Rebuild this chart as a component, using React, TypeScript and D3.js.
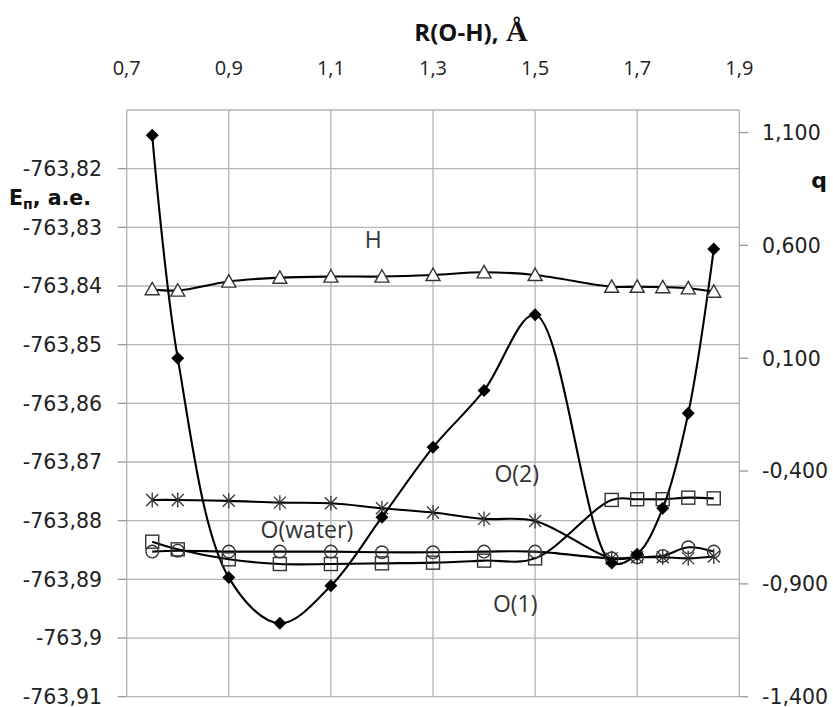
import React from 'react';
import * as d3 from 'd3';

// R(O-H), Å
const xVals = [0.75, 0.8, 0.9, 1.0, 1.1, 1.2, 1.3, 1.4, 1.5, 1.65, 1.7, 1.75, 1.8, 1.85];
// total energy, a.e. (left axis)
const energy = [-763.8143, -763.8523, -763.8897, -763.8975, -763.8911, -763.8794, -763.8675,
  -763.8578, -763.8449, -763.8872, -763.8857, -763.8779, -763.8617, -763.8337];
// charges q (right axis)
const qH = [0.406, 0.4, 0.44, 0.457, 0.462, 0.462, 0.469, 0.481, 0.469, 0.417, 0.417, 0.415, 0.41, 0.395];
const qStars = [-0.528, -0.528, -0.532, -0.54, -0.543, -0.565, -0.584, -0.612, -0.621, -0.787, -0.782, -0.782, -0.787, -0.779];
const qCircles = [-0.757, -0.753, -0.757, -0.757, -0.757, -0.76, -0.76, -0.757, -0.757, -0.787, -0.782, -0.776, -0.738, -0.757];
const qSquares = [-0.713, -0.747, -0.791, -0.812, -0.812, -0.809, -0.806, -0.797, -0.787, -0.528, -0.525, -0.525, -0.518, -0.521];

const xTicks = [0.7, 0.9, 1.1, 1.3, 1.5, 1.7, 1.9];
const leftTicks = [-763.82, -763.83, -763.84, -763.85, -763.86, -763.87, -763.88, -763.89, -763.9, -763.91];
const rightTicks = [1.1, 0.6, 0.1, -0.4, -0.9, -1.4];

const seriesLabels = [
  { text: 'H', x: 1.183, q: 0.624 },
  { text: 'O(2)', x: 1.464, q: -0.41 },
  { text: 'O(water)', x: 1.053, q: -0.661 },
  { text: 'O(1)', x: 1.461, q: -0.986 },
];

const W = 833;
const H = 707;
const left = 126.7;
const right = 739.3;
const top = 110;
const bottom = 696.7;

const x = d3.scaleLinear().domain([0.7, 1.9]).range([left, right]);
const yE = d3.scaleLinear().domain([-763.91, -763.81]).range([bottom, top]);
const yQ = d3.scaleLinear().domain([-1.4, 1.2]).range([bottom, top]);

const grid = '#b4b4b4';
const comma = (s: string) => s.replace('.', ',');

const curve = d3.curveCatmullRom.alpha(0.5);

const lineE = d3.line<number>().x((_, i) => x(xVals[i])).y(d => yE(d)).curve(curve);
const lineQ = d3.line<number>().x((_, i) => x(xVals[i])).y(d => yQ(d)).curve(curve);

const App = () => {
  const hLines = d3.range(0, 11).map(i => yE(-763.81 - i * 0.01));
  const vLines = xTicks.map(t => x(t));

  return (
    <svg width={W} height={H} style={{ position: 'absolute', left: 0, top: 0, background: '#fff' }}>
      <rect width={W} height={H} fill="#fff" />

      {/* grid */}
      {hLines.map((y, i) => (
        <line key={'h' + i} x1={left} x2={right} y1={y} y2={y} stroke={grid} strokeWidth={1.3} />
      ))}
      {vLines.map((vx, i) => (
        <line key={'v' + i} x1={vx} x2={vx} y1={top} y2={bottom} stroke={grid} strokeWidth={1.3} />
      ))}

      {/* left ticks */}
      {leftTicks.map(t => (
        <g key={'l' + t}>
          <line x1={left - 9} x2={left} y1={yE(t)} y2={yE(t)} stroke="#999" strokeWidth={1.3} />
          <text x={102} y={yE(t)} dy="0.36em" textAnchor="end" fontFamily="DejaVu Sans" fontSize={20.5} fill="#222">
            {comma(String(t))}
          </text>
        </g>
      ))}

      {/* right ticks */}
      {rightTicks.map(t => (
        <g key={'r' + t}>
          <line x1={right} x2={right + 9} y1={yQ(t)} y2={yQ(t)} stroke="#999" strokeWidth={1.3} />
          <text x={762} y={yQ(t)} dy="0.36em" textAnchor="start" fontFamily="DejaVu Sans" fontSize={20.5} fill="#222">
            {comma(t.toFixed(3))}
          </text>
        </g>
      ))}

      {/* top x labels */}
      {xTicks.map(t => (
        <text key={'x' + t} x={x(t)} y={68} dy="0.36em" textAnchor="middle" fontFamily="Open Sans" fontSize={20} fill="#222">
          {comma(String(t))}
        </text>
      ))}

      {/* axis titles */}
      <text x={471} y={32} dy="0.36em" textAnchor="middle" fontFamily="Open Sans" fontWeight="bold" fontSize={24} fill="#111">
        R(O-H),
        <tspan fontFamily="Liberation Serif" fontSize={30}> Å</tspan>
      </text>
      <text x={9} y={205} fontFamily="DejaVu Sans" fontWeight="bold" fontSize={20.5} fill="#111">
        E<tspan fontSize={14} dy={4}>п</tspan>
        <tspan dy={-4}>, а.е.</tspan>
      </text>
      <text x={819} y={188} textAnchor="middle" fontFamily="DejaVu Sans" fontWeight="bold" fontSize={22} fill="#111">
        q
      </text>

      {/* series lines */}
      <g fill="none" stroke="#000" strokeWidth={2.1}>
        <path d={lineQ(qSquares) || ''} />
        <path d={lineQ(qCircles) || ''} />
        <path d={lineQ(qStars) || ''} />
        <path d={lineQ(qH) || ''} />
        <path d={lineE(energy) || ''} />
      </g>

      {/* markers */}
      {qSquares.map((q, i) => (
        <rect key={'s' + i} x={x(xVals[i]) - 6.5} y={yQ(q) - 6.5} width={13} height={13}
          fill="none" stroke="#333" strokeWidth={1.4} />
      ))}
      {qCircles.map((q, i) => (
        <circle key={'c' + i} cx={x(xVals[i])} cy={yQ(q)} r={6.3} fill="none" stroke="#333" strokeWidth={1.4} />
      ))}
      {qStars.map((q, i) => (
        <path key={'a' + i} transform={`translate(${x(xVals[i])},${yQ(q)})`}
          d="M-6,-6L6,6M-6,6L6,-6M0,-7.5L0,7.5" stroke="#333" strokeWidth={1.3} fill="none" />
      ))}
      {qH.map((q, i) => (
        <path key={'t' + i} transform={`translate(${x(xVals[i])},${yQ(q)})`}
          d="M0,-6.8L7,5.6L-7,5.6Z" stroke="#333" strokeWidth={1.4} fill="#fff" />
      ))}
      {energy.map((e, i) => (
        <path key={'d' + i} transform={`translate(${x(xVals[i])},${yE(e)})`}
          d="M0,-6.5L6.5,0L0,6.5L-6.5,0Z" fill="#000" />
      ))}

      {/* series names */}
      {seriesLabels.map(l => (
        <text key={l.text} x={x(l.x)} y={yQ(l.q)} dy="0.36em" textAnchor="middle"
          fontFamily="Open Sans" fontSize={23} fill="#333">
          {l.text}
        </text>
      ))}
    </svg>
  );
};

export default App;
